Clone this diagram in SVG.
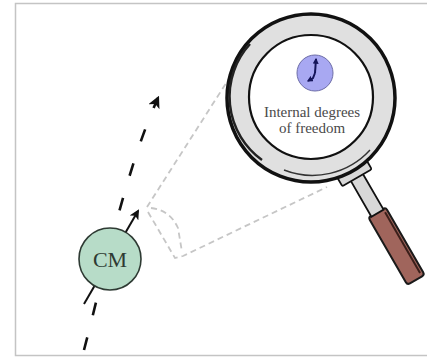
<svg xmlns="http://www.w3.org/2000/svg" width="427" height="357" viewBox="0 0 427 357">
  <style>
    .frame { fill: #ffffff; stroke: #c4c4c4; stroke-width: 1.5; }
    .guide { fill: none; stroke: #c6c6c6; stroke-width: 1.8; stroke-dasharray: 6 4; }
    .path-dash { fill: none; stroke: #111; stroke-width: 2.6; stroke-dasharray: 13 23; }
    .vel { fill: none; stroke: #111; stroke-width: 2; }
    .cm { fill: #b7dcc8; stroke: #2e3a33; stroke-width: 1.6; }
    .label { font-family: "Liberation Serif", "DejaVu Serif", serif; fill: #4a4a4a; text-anchor: middle; }
    .ring-outer { fill: #e0e0e0; stroke: #111; stroke-width: 3.5; }
    .ring-inner { fill: #ffffff; stroke: #111; stroke-width: 2.2; }
    .metal { fill: #d8d8d8; stroke: #111; stroke-width: 1.8; }
    .grip { fill: #a0655c; stroke: #1a1a1a; stroke-width: 2; }
    .clock { fill: #a8a8f2; stroke: #6e6ea8; stroke-width: 1; }
    .hand { fill: none; stroke: #15155a; stroke-width: 2; }
  </style>
  <defs>
    <marker id="head" viewBox="0 0 10 10" refX="8" refY="5" markerWidth="4.6" markerHeight="4.6" orient="auto">
      <path d="M0,0 L10,5 L0,10 L2.5,5 Z" fill="#111"/>
    </marker>
    <marker id="headSmall" viewBox="0 0 10 10" refX="8" refY="5" markerWidth="5" markerHeight="5" orient="auto">
      <path d="M0,0 L10,5 L0,10 L2.5,5 Z" fill="#111"/>
    </marker>
    <marker id="handhead" viewBox="0 0 10 10" refX="8" refY="5" markerWidth="3" markerHeight="3" orient="auto">
      <path d="M0,0 L10,5 L0,10 Z" fill="#15155a"/>
    </marker>
  </defs>

  <rect class="frame" x="15.5" y="3.5" width="420" height="352"/>

  <!-- connectors: trajectory, velocity and zoom guide lines -->
  <g id="connectors">
    <path class="guide" d="M147,207 L230,77"/>
    <path class="guide" d="M148,212 L175,258 L183,256 L327,187"/>
    <path class="guide" d="M151,208 Q170,210 178,228 L182,252"/>
    <path class="path-dash" d="M84,350 C100,290 125,170 158,98" marker-end="url(#head)"/>
    <path class="vel" d="M84,304 L138,211" marker-end="url(#headSmall)"/>
  </g>

  <g id="cm">
    <circle class="cm" cx="110" cy="259" r="31"/>
    <text class="label" x="110" y="267" font-size="22" style="fill:#2e3a33">CM</text>
  </g>

  <g id="magnifier">
    <!-- handle, drawn along the lens axis -->
    <g transform="translate(311,98) rotate(-30)">
      <rect class="grip" x="-10" y="132" width="20" height="78" rx="3"/>
      <path d="M7,136 L7,206" stroke="#3a1f1a" stroke-width="2" fill="none"/>
      <rect class="metal" x="-7" y="90" width="14" height="43"/>
      <rect class="metal" x="-17" y="81" width="34" height="11" rx="1.5"/>
    </g>
    <circle class="ring-outer" cx="311" cy="98" r="84"/>
    <path d="M250,44 A78,78 0 0 0 262,160" fill="none" stroke="#222" stroke-width="2.5"/>
    <path d="M284,170 A78,78 0 0 0 370,150" fill="none" stroke="#333" stroke-width="1.4"/>
    <circle class="ring-inner" cx="311" cy="97" r="62"/>
    <g id="clock">
      <circle class="clock" cx="315" cy="73" r="18"/>
      <path d="M315,73 L316,59" class="hand" marker-end="url(#handhead)"/>
      <path d="M315,73 L313,78 L308,81" class="hand" marker-end="url(#handhead)"/>
    </g>
    <text class="label" x="312" y="117" font-size="15">Internal degrees</text>
    <text class="label" x="312" y="133" font-size="15">of freedom</text>
  </g>
</svg>
